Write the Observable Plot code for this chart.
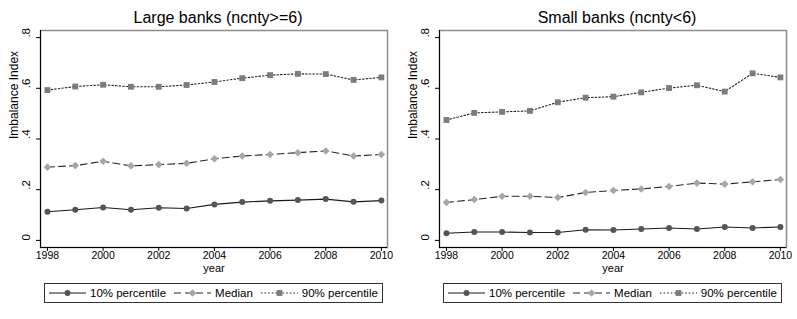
<!DOCTYPE html>
<html>
<head>
<meta charset="utf-8">
<script src="https://cdn.jsdelivr.net/npm/d3@7"></script>
<script src="https://cdn.jsdelivr.net/npm/@observablehq/plot@0.6"></script>
<style>
  body { margin: 0; background: white; font-family: "Liberation Sans", Arial, sans-serif; }
  #wrap { display: flex; width: 797px; height: 319px; gap: 1px; }
  .panel { width: 398px; position: relative; }
  .title { height: 26px; padding-top: 8px; box-sizing: border-box; line-height: 20px; text-align: center; font-size: 16px; color: #000; padding-left: 38px; }
  .legend { margin: 4px 0 0 44px; width: 339px; height: 20px; box-sizing: border-box; border: 1px solid #333; display: flex; align-items: center; font-size: 11.5px; padding-left: 4px; white-space: nowrap; overflow: hidden; }
  .legend svg { display: block; }
  .key { display: flex; align-items: center; }
  .key span { margin-left: 4px; margin-right: 8px; }
</style>
</head>
<body>
<div id="wrap"></div>
<script>
const years = [1998, 1999, 2000, 2001, 2002, 2003, 2004, 2005, 2006, 2007, 2008, 2009, 2010];
const largeP10    = [0.113, 0.121, 0.130, 0.121, 0.129, 0.126, 0.142, 0.151, 0.156, 0.159, 0.163, 0.152, 0.157];
const largeMedian = [0.289, 0.295, 0.312, 0.294, 0.299, 0.304, 0.322, 0.333, 0.339, 0.346, 0.353, 0.333, 0.339];
const largeP90    = [0.593, 0.607, 0.614, 0.606, 0.606, 0.613, 0.625, 0.640, 0.652, 0.657, 0.656, 0.633, 0.643];
const smallP10    = [0.028, 0.033, 0.033, 0.031, 0.031, 0.042, 0.041, 0.045, 0.049, 0.045, 0.053, 0.049, 0.053];
const smallMedian = [0.150, 0.161, 0.174, 0.174, 0.169, 0.189, 0.197, 0.203, 0.213, 0.226, 0.222, 0.231, 0.240];
const smallP90    = [0.475, 0.503, 0.507, 0.511, 0.545, 0.563, 0.567, 0.584, 0.601, 0.612, 0.587, 0.659, 0.643];
const panelTitles = ["Large banks (ncnty>=6)", "Small banks (ncnty<6)"];
const seriesNames = ["10% percentile", "Median", "90% percentile"];
const xTicks = [1998, 2000, 2002, 2004, 2006, 2008, 2010];
const yTicks = [0, 0.2, 0.4, 0.6, 0.8];
const yTickLabels = ["0", ".2", ".4", ".6", ".8"];
const yLabel = "Imbalance Index";
const xLabel = "year";

const xDomain = [1997.75, 2010.22];
const yDomain = [-0.028, 0.828];

const styles = [
  {symbol: "circle",   r: 3.0, fill: "#555555", stroke: "#1a1a1a", dash: null},
  {symbol: "diamond2", r: 3.4, fill: "#a6a6a6", stroke: "#262626", dash: "7,4"},
  {symbol: "square",   r: 3.3, fill: "#7c7c7c", stroke: "#262626", dash: "1.6,2"}
];

function panel(title, series) {
  const div = document.createElement("div");
  div.className = "panel";
  const t = document.createElement("div");
  t.className = "title";
  t.textContent = title;
  div.appendChild(t);

  const lineMarks = [];
  series.forEach((vals, k) => {
    const s = styles[k];
    const data = years.map((y, i) => ({year: y, v: vals[i]}));
    lineMarks.push(Plot.line(data, {x: "year", y: "v", stroke: s.stroke, strokeWidth: 1.1, strokeDasharray: s.dash}));
  });
  series.forEach((vals, k) => {
    const s = styles[k];
    const data = years.map((y, i) => ({year: y, v: vals[i]}));
    lineMarks.push(Plot.dot(data, {x: "year", y: "v", symbol: s.symbol, r: s.r, fill: s.fill, stroke: "none"}));
  });

  const chart = Plot.plot({
    width: 398, height: 253,
    marginLeft: 40, marginRight: 11, marginTop: 4, marginBottom: 32,
    x: {domain: xDomain},
    y: {domain: yDomain},
    style: {fontFamily: "'Liberation Sans', Arial, sans-serif", background: "white", color: "black"},
    marks: [
      Plot.frame({stroke: "#8c8c8c", strokeWidth: 1.5}),
      Plot.ruleX([xDomain[0]], {stroke: "black", strokeWidth: 1}),
      Plot.ruleY([yDomain[0]], {stroke: "black", strokeWidth: 1}),
      Plot.axisX({ticks: xTicks, tickFormat: d => String(d), tickSize: 4, tickPadding: 0, fontSize: 10.5, label: null}),
      Plot.axisY({ticks: yTicks, tickSize: 4, tickFormat: () => "", label: null}),
      Plot.text(yTicks, {y: d => d, text: (d, i) => yTickLabels[i], frameAnchor: "left", dx: -14, rotate: -90, fontSize: 11.5}),
      Plot.text([yLabel], {frameAnchor: "left", dx: -26, rotate: -90, fontSize: 12}),
      Plot.text([xLabel], {frameAnchor: "bottom", dy: 24, fontSize: 11}),
      ...lineMarks
    ]
  });
  div.appendChild(chart);

  const leg = document.createElement("div");
  leg.className = "legend";
  seriesNames.forEach((name, k) => {
    const s = styles[k];
    const item = document.createElement("div");
    item.className = "key";
    const sym = d3.symbol(d3["symbol" + (s.symbol === "circle" ? "Circle" : s.symbol === "square" ? "Square" : "Diamond2")], Math.PI * s.r * s.r)();
    item.innerHTML = `<svg width="37" height="12"><line x1="0" x2="37" y1="6" y2="6" stroke="${s.stroke}" stroke-width="1.1" ${s.dash ? `stroke-dasharray="${s.dash}"` : ""}/><path transform="translate(18.5,6)" d="${sym}" fill="${s.fill}"/></svg><span>${name}</span>`;
    leg.appendChild(item);
  });
  div.appendChild(leg);
  return div;
}

const wrap = document.getElementById("wrap");
wrap.appendChild(panel(panelTitles[0], [largeP10, largeMedian, largeP90]));
wrap.appendChild(panel(panelTitles[1], [smallP10, smallMedian, smallP90]));
</script>
</body>
</html>
